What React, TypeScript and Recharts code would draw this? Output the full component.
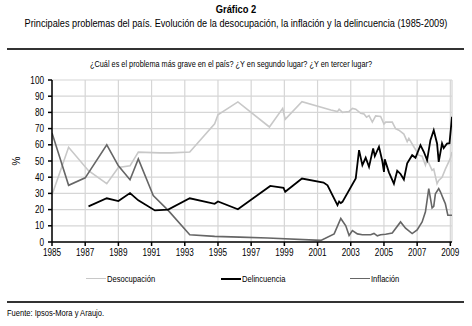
import React from 'react';
import { CartesianGrid, Line, LineChart, XAxis, YAxis } from 'recharts';

const desocYears = [
  1985, 1986, 1987.2, 1988.3, 1989, 1989.7, 1990.2, 1991.5, 1992.2, 1993.3, 1994.8, 1995, 1996.2,
  1998.1, 1998.9, 1999.05, 2000.06, 2001.8, 2002.2, 2002.3, 2002.5, 2002.9, 2003.1, 2003.3,
  2003.6, 2003.8, 2003.95, 2004.1, 2004.3, 2004.5, 2004.8, 2005.0, 2005.1, 2005.5, 2005.7,
  2005.9, 2006.2, 2006.4, 2006.5, 2006.8, 2007.1, 2007.3, 2007.5, 2007.6, 2007.9, 2008.0,
  2008.2, 2008.3, 2008.5, 2008.7, 2009.0, 2009.1,
];
const desocValues = [
  29, 58.5, 44, 36, 46, 47, 55.5, 55, 55, 55.5, 73, 78.5, 86.5,
  71, 82.5, 75.7, 86.6, 81.5, 80.5, 82, 80, 80.6, 82.5, 82,
  79.4, 79, 77, 78, 74, 77.8, 77.5, 72.8, 74, 74, 70,
  69, 66.6, 62, 64, 58.8, 53.6, 53, 47.4, 51, 44.3, 45,
  36, 38, 40, 45, 51.6, 55.6,
];

const delinYears = [
  1987.2, 1988.3, 1989, 1989.7, 1990.2, 1991.2, 1992, 1993.3, 1994.8, 1995, 1996.2,
  1998.15, 1998.95, 1999.05, 2000.06, 2001.36, 2001.6, 2002.2, 2002.3, 2002.4, 2002.5,
  2003.3, 2003.5, 2003.7, 2003.9, 2004.1, 2004.35, 2004.45, 2004.7, 2004.9, 2005.0,
  2005.05, 2005.3, 2005.6, 2005.8, 2006.0, 2006.2, 2006.4, 2006.7, 2006.9, 2007.2,
  2007.4, 2007.6, 2007.8, 2008.0, 2008.2, 2008.3, 2008.5, 2008.6, 2008.8, 2008.95, 2009.1,
];
const delinValues = [
  22, 27, 25.3, 30.2, 25.7, 19.5, 20, 27, 23.6, 25, 20.2,
  34.6, 33.4, 31, 39.2, 36.7, 35, 22.7, 25, 24, 24.8,
  39.2, 56.7, 47.4, 52, 46.4, 57.8, 53, 58.8, 50, 43.3,
  51, 43, 36, 44, 42, 38.6, 48.6, 53.6, 52, 59.8,
  55.7, 50.5, 62.9, 69, 60.8, 49.5, 60.8, 58, 60.8, 61, 77.3,
];

const inflYears = [
  1985, 1986, 1987, 1988.3, 1989, 1989.7, 1990.2, 1991.1, 1992, 1993.3, 1994.8, 1996.3,
  1998, 2001.2, 2002.0, 2002.4, 2002.7, 2002.9, 2003.1, 2003.4, 2003.7, 2004.2, 2004.4,
  2004.6, 2004.8, 2005.1, 2005.5, 2006.0, 2006.3, 2006.7, 2007.0, 2007.3, 2007.5, 2007.7,
  2007.9, 2008.0, 2008.1, 2008.3, 2008.4, 2008.6, 2008.7, 2008.85, 2009.1,
];
const inflValues = [
  67.3, 35, 39.6, 60, 47, 38.4, 51.3, 28.7, 19.5, 4.5, 3.5, 3,
  2.5, 1, 5, 14.5, 10, 4, 7, 5, 4.5, 4.5, 5.3,
  3.8, 4.5, 4.8, 5.5, 12.4, 8.5, 5.2, 7.5, 12.4, 18.6, 33,
  21, 22, 29.7, 33, 31, 26, 23.6, 16.5, 16.5,
];

const yearTicks = [1985, 1987, 1989, 1991, 1993, 1995, 1997, 1999, 2001, 2003, 2005, 2007, 2009];
const pctTicks = [0, 10, 20, 30, 40, 50, 60, 70, 80, 90, 100];

const toRows = (xs: number[], ys: number[]) => xs.map((x, i) => ({ x, y: ys[i] }));

const font = "'Liberation Sans', Arial, sans-serif";

// narrow-ish tick text, squeezed horizontally around its anchor
const NarrowTick = (props: any) => {
  const { x, y, payload, textAnchor, vertical } = props;
  return (
    <text
      x={x}
      y={y}
      dy={vertical ? '0.355em' : '0.71em'}
      textAnchor={textAnchor}
      fontSize={10}
      fontFamily={font}
      fill="#000"
      transform={`translate(${x} 0) scale(0.82 1) translate(${-x} 0)`}
    >
      {payload.value}
    </text>
  );
};

const squeeze = (s: number): React.CSSProperties => ({
  transform: `scaleX(${s})`,
  whiteSpace: 'nowrap',
});

export default function App() {
  const desoc = toRows(desocYears, desocValues);
  const delin = toRows(delinYears, delinValues);
  const infl = toRows(inflYears, inflValues);

  return (
    <div
      style={{
        position: 'absolute',
        left: 0,
        top: 0,
        width: 472,
        height: 326,
        background: '#fff',
        fontFamily: font,
        color: '#000',
      }}
    >
      <div style={{ position: 'absolute', top: 3, left: 0, width: 472, textAlign: 'center', fontSize: 11, fontWeight: 'bold', ...squeeze(0.85) }}>
        Gráfico 2
      </div>
      <div style={{ position: 'absolute', top: 17, left: -20, width: 512, textAlign: 'center', fontSize: 11, ...squeeze(0.834) }}>
        Principales problemas del país. Evolución de la desocupación, la inflación y la delincuencia (1985-2009)
      </div>
      <div style={{ position: 'absolute', top: 48, left: 7, width: 457, height: 2, background: '#333' }} />
      <div style={{ position: 'absolute', top: 58, left: 0, width: 462, textAlign: 'center', fontSize: 9.5, ...squeeze(0.77) }}>
        ¿Cuál es el problema más grave en el país? ¿Y en segundo lugar? ¿Y en tercer lugar?
      </div>

      <LineChart width={472} height={326} data={desoc} margin={{ top: 80, right: 20, bottom: 54, left: 22 }}>
        <CartesianGrid stroke="#d6d6d6" strokeWidth={1.2} />
        <XAxis
          type="number"
          dataKey="x"
          domain={[1985, 2009.1]}
          ticks={yearTicks}
          interval={0}
          allowDataOverflow
          tick={<NarrowTick />}
          tickSize={4}
          tickMargin={3}
          stroke="#000"
          strokeWidth={1.5}
          height={30}
        />
        <YAxis
          type="number"
          domain={[0, 100]}
          ticks={pctTicks}
          interval={0}
          tick={<NarrowTick vertical />}
          tickSize={4}
          tickMargin={4}
          stroke="#000"
          strokeWidth={1.5}
          width={30}
        />
        <Line data={desoc} dataKey="y" stroke="#c8c8c8" strokeWidth={1.6} dot={false} isAnimationActive={false} />
        <Line data={infl} dataKey="y" stroke="#666" strokeWidth={1.6} dot={false} isAnimationActive={false} />
        <Line data={delin} dataKey="y" stroke="#000" strokeWidth={1.8} dot={false} isAnimationActive={false} />
      </LineChart>

      <div
        style={{
          position: 'absolute',
          left: 16,
          top: 161,
          fontSize: 10,
          transform: 'translate(-50%, -50%) rotate(-90deg)',
        }}
      >
        %
      </div>

      {[
        { left: 86, color: '#c8c8c8', h: 1.5, label: 'Desocupación' },
        { left: 221, color: '#000', h: 2, label: 'Delincuencia' },
        { left: 350, color: '#666', h: 1.5, label: 'Inflación' },
      ].map((it) => (
        <div key={it.label} style={{ position: 'absolute', left: it.left, top: 273, display: 'flex', alignItems: 'center', fontSize: 9.5 }}>
          <span style={{ display: 'inline-block', width: 20, height: it.h, background: it.color, marginRight: 1 }} />
          <span style={{ ...squeeze(0.8), transformOrigin: 'left center', display: 'inline-block' }}>{it.label}</span>
        </div>
      ))}

      <div style={{ position: 'absolute', top: 301, left: 7, width: 457, height: 2, background: '#333' }} />
      <div style={{ position: 'absolute', top: 308, left: 7, fontSize: 9, ...squeeze(0.84), transformOrigin: 'left center' }}>
        Fuente: Ipsos-Mora y Araujo.
      </div>
    </div>
  );
}
